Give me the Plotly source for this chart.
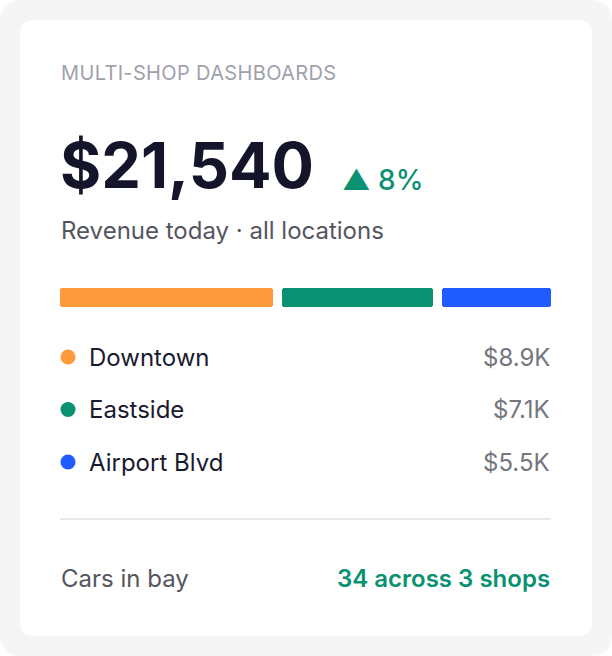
import plotly.graph_objects as go

W, H = 612, 656

# ---- data ----
title_text = "MULTI-SHOP DASHBOARDS"
total_revenue = "$21,540"
change_pct = 8
subtitle = "Revenue today · all locations"
locations = ["Downtown", "Eastside", "Airport Blvd"]
revenue_k = [8.9, 7.1, 5.5]
bar_share = [45, 32, 23]
colors = ["#FF9A3C", "#0A9171", "#1F5BFF"]
cars_label = "Cars in bay"
cars_in_bay = 34
shop_count = 3

FONT = "Inter"

def px(x):
    return x / W

def py(y):
    return 1 - y / H

def rounded_rect(x0, y0, x1, y1, r):
    X = lambda v: px(v)
    Y = lambda v: py(v)
    rx, ry = r / W, r / H
    return (f"M {X(x0)+rx},{Y(y0)} L {X(x1)-rx},{Y(y0)} "
            f"Q {X(x1)},{Y(y0)} {X(x1)},{Y(y0)-ry} "
            f"L {X(x1)},{Y(y1)+ry} Q {X(x1)},{Y(y1)} {X(x1)-rx},{Y(y1)} "
            f"L {X(x0)+rx},{Y(y1)} Q {X(x0)},{Y(y1)} {X(x0)},{Y(y1)+ry} "
            f"L {X(x0)},{Y(y0)-ry} Q {X(x0)},{Y(y0)} {X(x0)+rx},{Y(y0)} Z")

fig = go.Figure()

# ---- stacked share bar ----
gap = 9 * 100 / 473.0
bases = []
acc = 0
for s in bar_share:
    bases.append(acc)
    acc += s + gap
for name, s, b, c in zip(locations, bar_share, bases, colors):
    fig.add_trace(go.Bar(
        x=[s], y=["share"], base=[b], orientation="h",
        marker=dict(color=c, line=dict(width=0)),
        width=1, xaxis="x", yaxis="y", showlegend=False, hoverinfo="skip",
    ))

# ---- legend dots ----
fig.add_trace(go.Scatter(
    x=[0] * len(locations), y=locations, mode="markers",
    marker=dict(size=15, color=colors, line=dict(width=0)),
    xaxis="x2", yaxis="y2", showlegend=False, hoverinfo="skip",
))

fig.update_layout(
    width=W, height=H, autosize=False,
    margin=dict(l=0, r=0, t=0, b=0),
    paper_bgcolor="#FFFFFF", plot_bgcolor="rgba(0,0,0,0)",
    bargap=0, barmode="overlay", barcornerradius=3,
    xaxis=dict(domain=[px(60), px(551)], range=[0, 100 + 2 * gap],
               visible=False, fixedrange=True),
    yaxis=dict(domain=[py(307), py(288)], range=[-0.5, 0.5],
               visible=False, fixedrange=True),
    xaxis2=dict(domain=[px(60), px(551)], range=[-8, 483],
                visible=False, fixedrange=True),
    yaxis2=dict(domain=[py(488.25), py(330.75)], range=[2.5, -0.5],
                type="category", categoryarray=locations,
                visible=False, fixedrange=True),
)

# ---- background shapes ----
fig.add_shape(type="path", xref="paper", yref="paper",
              path=rounded_rect(0, 0, W, H, 22),
              fillcolor="#F5F5F6", line=dict(width=0), layer="below")
fig.add_shape(type="path", xref="paper", yref="paper",
              path=rounded_rect(20, 20, 592, 636, 14),
              fillcolor="#FFFFFF", line=dict(width=0), layer="below")
fig.add_shape(type="line", xref="paper", yref="paper",
              x0=px(60), x1=px(551), y0=py(519), y1=py(519),
              line=dict(color="#E8E8EB", width=2))

def ann(text, x, y, size, color, xanchor="left", weight=400, **kw):
    fig.add_annotation(text=text, x=x, y=y, xref=kw.pop("xref", "paper"),
                       yref=kw.pop("yref", "paper"), showarrow=False,
                       xanchor=xanchor, yanchor="middle",
                       font=dict(family=FONT, size=size, color=color, weight=weight),
                       **kw)

ann(f'<span style="letter-spacing:0.35px">{title_text}</span>', px(59), py(73), 20, "#A1A1AA")
ann(total_revenue, px(58), py(165), 63, "#14142A", weight=700)
ann(f"▲ {change_pct}%", px(340), py(180), 28, "#0A9171", weight=500)
ann(subtitle, px(59), py(230), 24, "#55555E")

for name, v in zip(locations, revenue_k):
    ann(name, 0, name, 24, "#1A1A2E", xref="x2", yref="y2", xshift=19)
    ann(f"${v}K", px(552), name, 24, "#76767F", xanchor="right", yref="y2")

ann(cars_label, px(59), py(578), 24, "#55555E")
ann(f"{cars_in_bay} across {shop_count} shops", px(552), py(578), 24,
    "#0A9171", xanchor="right", weight=600)

fig.write_html("out.html", config={"displayModeBar": False, "responsive": False},
               post_script="document.body.style.margin='0';document.body.style.padding='0';")
